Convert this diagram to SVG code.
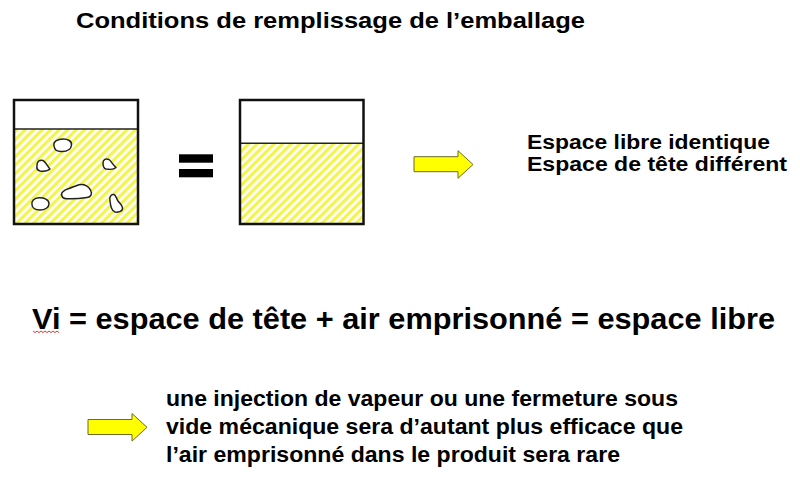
<svg xmlns="http://www.w3.org/2000/svg" width="800" height="480" viewBox="0 0 800 480">
  <style>
    .t { font-family: "Liberation Sans", Arial, sans-serif; font-weight: bold; fill: #000; }
    .box { fill: none; stroke: #111; stroke-width: 2.5; }
    .div { stroke: #222; stroke-width: 1.4; }
    .bub { fill: #fff; stroke: #222; stroke-width: 1.5; stroke-linejoin: round; }
    .arr { fill: #ffff00; stroke: #6b6b2a; stroke-width: 1; stroke-linejoin: miter; }
  </style>
  <defs>
    <pattern id="hatch" width="6" height="6" patternUnits="userSpaceOnUse" patternTransform="rotate(45)">
      <rect width="6" height="6" fill="#ffffff"/>
      <rect width="3.2" height="6" fill="#f4f44c"/>
    </pattern>
    <path id="arrowShape" d="M0,6 H44 V0 L59,13.8 L44,27.6 V21 H0 Z"/>
  </defs>
  <rect width="800" height="480" fill="#ffffff"/>

  <g id="title">
    <text class="t" x="76" y="27.5" font-size="22" textLength="509" lengthAdjust="spacingAndGlyphs">Conditions de remplissage de l’emballage</text>
  </g>

  <g id="container-left">
    <rect x="14" y="129" width="124" height="95" fill="url(#hatch)"/>
    <path class="bub" d="M54,146 C53,141 58,139 63,139 C68,139 72,141 71.5,145 C71,150 67,151.5 62,151.5 C57,151.8 54.5,150 54,146 Z"/>
    <path class="bub" d="M37,165 C37,161 40,159.5 43,160.5 C46,162 47,166 50,169 C48,171 44,171.5 40,171 C37.5,170.5 36.5,168 37,165 Z"/>
    <path class="bub" d="M103,163 C103,159.5 106,158 109,159.5 C111,161 113,165 116,167.5 C114,169.5 109,169.5 106,169 C104,168.5 103,166 103,163 Z"/>
    <path class="bub" d="M62,196 C60,193 64,190 69,188.5 C72,187.5 75,186 79,184.8 C84,184 88,186 90.5,190 C92.5,194 91,197 87,197.5 C81,198.5 73,199 67,198.8 C64,198.7 62.5,198 62,196 Z"/>
    <path class="bub" d="M32,205 C31,201 34,198 39,197.8 C44,197.6 49,199.5 49,203.5 C49,207.5 45,210 40,210 C35.5,210 32.5,208 32,205 Z"/>
    <path class="bub" d="M110,201 C109,197 111,194 114,194.5 C116,195 116.5,199 118,201 C120,203.5 123,206 122.5,209 C122,211.5 118,212.5 115,212 C111.5,211 110.5,206 110,201 Z"/>
    <line class="div" x1="14" y1="129" x2="138" y2="129"/>
    <rect class="box" x="14" y="100" width="124" height="124"/>
  </g>

  <g id="equals">
    <rect x="179" y="154.3" width="34" height="8.4" fill="#000"/>
    <rect x="179" y="169" width="34" height="8.3" fill="#000"/>
  </g>

  <g id="container-right">
    <rect x="240" y="143.3" width="123.5" height="80.7" fill="url(#hatch)"/>
    <line class="div" x1="240" y1="143.3" x2="363.5" y2="143.3"/>
    <rect class="box" x="240" y="100" width="123.5" height="124"/>
  </g>

  <g id="connectors">
    <use href="#arrowShape" class="arr" x="414" y="150.7"/>
    <use href="#arrowShape" class="arr" x="88" y="413.5"/>
  </g>

  <g id="result-text">
    <text class="t" x="527" y="148.5" font-size="19.5" textLength="243" lengthAdjust="spacingAndGlyphs">Espace libre identique</text>
    <text class="t" x="527" y="171" font-size="19.5" textLength="260" lengthAdjust="spacingAndGlyphs">Espace de tête différent</text>
  </g>

  <g id="formula">
    <text class="t" x="32" y="328.5" font-size="30" textLength="743" lengthAdjust="spacingAndGlyphs">Vi = espace de tête + air emprisonné = espace libre</text>
    <path d="M33,331 l2,1.6 l2,-1.6 l2,1.6 l2,-1.6 l2,1.6 l2,-1.6 l2,1.6 l2,-1.6 l2,1.6 l2,-1.6 l2,1.6 l2,-1.6 l2,1.6" fill="none" stroke="#e02020" stroke-width="0.9"/>
  </g>

  <g id="conclusion-text">
    <text class="t" x="166" y="406" font-size="22" textLength="512" lengthAdjust="spacingAndGlyphs">une injection de vapeur ou une fermeture sous</text>
    <text class="t" x="166" y="434" font-size="22" textLength="517" lengthAdjust="spacingAndGlyphs">vide mécanique sera d’autant plus efficace que</text>
    <text class="t" x="166" y="461.5" font-size="22" textLength="454" lengthAdjust="spacingAndGlyphs">l’air emprisonné dans le produit sera rare</text>
  </g>
</svg>
